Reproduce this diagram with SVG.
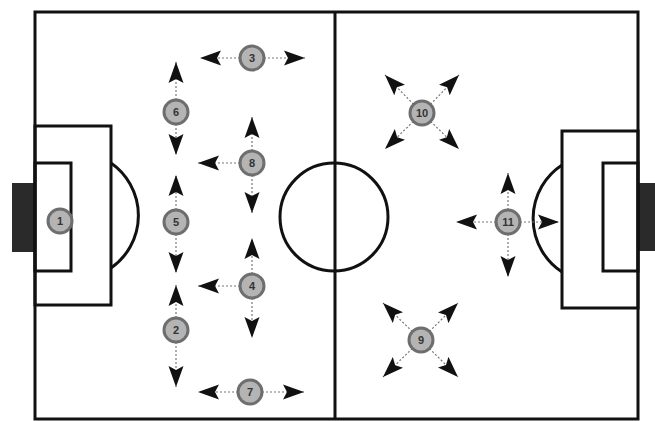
<svg xmlns="http://www.w3.org/2000/svg" width="655" height="421" viewBox="0 0 655 421">
<style>
.ln{fill:none;stroke:#111;stroke-width:3}
.goal{fill:#2a2a2a}
.con{stroke:#777;stroke-width:1.2;stroke-dasharray:2 2;fill:none;marker-end:url(#ah)}
.pl circle{fill:#b4b4b4;stroke:#6e6e6e;stroke-width:3}
.pl text{font-family:"Liberation Sans",Arial,sans-serif;font-size:11px;font-weight:bold;fill:#333;text-anchor:middle;dominant-baseline:central}
</style>
<defs>
<marker id="ah" viewBox="-21 -8 22 16" refX="0" refY="0" markerWidth="22" markerHeight="16" markerUnits="userSpaceOnUse" orient="auto">
<path d="M0,0 L-21,-7.5 L-17,0 L-21,7.5 Z" fill="#111"/>
</marker>
</defs>
<rect width="655" height="421" fill="#fff"/>
<g id="field">
<rect class="goal" x="12" y="183" width="23" height="69"/>
<rect class="goal" x="638" y="183" width="17" height="68"/>
<rect class="ln" x="35" y="12" width="603" height="407"/>
<line class="ln" x1="335" y1="12" x2="335" y2="419"/>
<circle class="ln" cx="334" cy="217" r="54"/>
<rect class="ln" x="35" y="126" width="76" height="179"/>
<rect class="ln" x="35" y="163" width="36" height="108"/>
<path class="ln" d="M111,163 A64,64 0 0 1 111,268"/>
<rect class="ln" x="562" y="131" width="76" height="177"/>
<rect class="ln" x="603" y="163" width="35" height="108"/>
<path class="ln" d="M562,165 A64,64 0 0 0 562,272"/>
</g>
<g id="connectors">
<line class="con" x1="252" y1="58" x2="200" y2="58"/>
<line class="con" x1="252" y1="58" x2="305" y2="58"/>
<line class="con" x1="176" y1="112" x2="176" y2="62"/>
<line class="con" x1="176" y1="112" x2="176" y2="155"/>
<line class="con" x1="252" y1="163" x2="252" y2="117"/>
<line class="con" x1="252" y1="163" x2="198" y2="163"/>
<line class="con" x1="252" y1="163" x2="252" y2="213"/>
<line class="con" x1="176" y1="222" x2="176" y2="175"/>
<line class="con" x1="176" y1="222" x2="176" y2="273"/>
<line class="con" x1="252" y1="286" x2="252" y2="238"/>
<line class="con" x1="252" y1="286" x2="198" y2="286"/>
<line class="con" x1="252" y1="286" x2="252" y2="338"/>
<line class="con" x1="176" y1="330" x2="176" y2="285"/>
<line class="con" x1="176" y1="330" x2="176" y2="387"/>
<line class="con" x1="250" y1="392" x2="198" y2="392"/>
<line class="con" x1="250" y1="392" x2="304" y2="392"/>
<line class="con" x1="422" y1="113" x2="385" y2="75"/>
<line class="con" x1="422" y1="113" x2="459" y2="75"/>
<line class="con" x1="422" y1="113" x2="385" y2="149"/>
<line class="con" x1="422" y1="113" x2="459" y2="149"/>
<line class="con" x1="421" y1="340" x2="383" y2="303"/>
<line class="con" x1="421" y1="340" x2="458" y2="303"/>
<line class="con" x1="421" y1="340" x2="383" y2="377"/>
<line class="con" x1="421" y1="340" x2="458" y2="377"/>
<line class="con" x1="508" y1="222" x2="456" y2="222"/>
<line class="con" x1="508" y1="222" x2="559" y2="222"/>
<line class="con" x1="508" y1="222" x2="508" y2="173"/>
<line class="con" x1="508" y1="222" x2="508" y2="277"/>
</g>
<g id="p1" class="pl"><circle cx="60" cy="221" r="12"/><text x="60" y="221">1</text></g>
<g id="p2" class="pl"><circle cx="176" cy="330" r="12"/><text x="176" y="330">2</text></g>
<g id="p3" class="pl"><circle cx="252" cy="58" r="12"/><text x="252" y="58">3</text></g>
<g id="p4" class="pl"><circle cx="252" cy="286" r="12"/><text x="252" y="286">4</text></g>
<g id="p5" class="pl"><circle cx="176" cy="222" r="12"/><text x="176" y="222">5</text></g>
<g id="p6" class="pl"><circle cx="176" cy="112" r="12"/><text x="176" y="112">6</text></g>
<g id="p7" class="pl"><circle cx="250" cy="392" r="12"/><text x="250" y="392">7</text></g>
<g id="p8" class="pl"><circle cx="252" cy="163" r="12"/><text x="252" y="163">8</text></g>
<g id="p9" class="pl"><circle cx="421" cy="340" r="12"/><text x="421" y="340">9</text></g>
<g id="p10" class="pl"><circle cx="422" cy="113" r="12"/><text x="422" y="113">10</text></g>
<g id="p11" class="pl"><circle cx="508" cy="222" r="12"/><text x="508" y="222">11</text></g>
</svg>
